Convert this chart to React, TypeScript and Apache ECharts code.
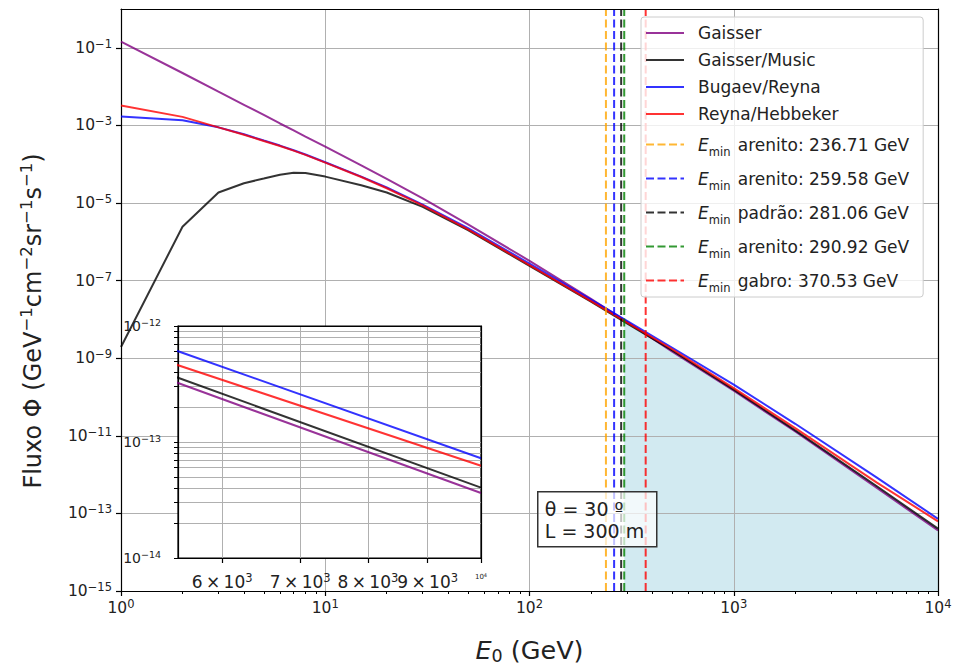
import React, { useEffect, useRef } from "react";
import * as echarts from "echarts";

// ---------- data ----------
const energies = [1, 2, 3, 4, 5, 6, 7, 8, 10, 15, 20, 30, 50, 100, 200, 300, 500, 1000, 2000, 5000, 10000];
const gaisser = [1.45e-1, 2.24e-2, 7.4e-3, 3.4e-3, 1.86e-3, 1.12e-3, 7.41e-4, 5.13e-4, 2.82e-4, 9.33e-5, 4.17e-5, 1.32e-5, 2.82e-6, 3.24e-7, 3.39e-8, 8.71e-9, 1.48e-9, 1.45e-10, 1.29e-11, 4.57e-13, 3.63e-14];
const gaisserMusic = [1.95e-9, 2.45e-6, 1.86e-5, 3.24e-5, 4.27e-5, 5.37e-5, 6.03e-5, 5.95e-5, 4.79e-5, 2.88e-5, 1.86e-5, 7.94e-6, 2.0e-6, 2.40e-7, 2.88e-8, 7.94e-9, 1.58e-9, 1.55e-10, 1.38e-11, 5.07e-13, 4.04e-14];
const bugaevReyna = [1.70e-3, 1.35e-3, 8.91e-4, 5.89e-4, 4.07e-4, 3.02e-4, 2.29e-4, 1.78e-4, 1.12e-4, 4.79e-5, 2.51e-5, 9.12e-6, 2.24e-6, 2.75e-7, 3.24e-8, 9.12e-9, 1.86e-9, 2.09e-10, 2.04e-11, 8.51e-13, 7.24e-14];
const reynaHebbeker = [3.24e-3, 1.66e-3, 8.91e-4, 5.75e-4, 3.98e-4, 2.95e-4, 2.24e-4, 1.74e-4, 1.10e-4, 4.68e-5, 2.40e-5, 8.71e-6, 2.09e-6, 2.51e-7, 2.95e-8, 8.32e-9, 1.70e-9, 1.70e-10, 1.58e-11, 6.31e-13, 6.25e-14];
const modelNames = ["Gaisser", "Gaisser/Music", "Bugaev/Reyna", "Reyna/Hebbeker"];

const eminRocks = ["arenito", "arenito", "padrão", "arenito", "gabro"];
const eminValues = [236.71, 259.58, 281.06, 290.92, 370.53];

const fillStartIndex = 3; // shaded region starts at the 4th E_min line
const fillStartFlux = 8.8e-9; // flux read at that energy

// tick values
const xMajorExps = [0, 1, 2, 3, 4];
const yMajorExps = [-15, -13, -11, -9, -7, -5, -3, -1];
const minorMultipliers = [2, 3, 4, 5, 6, 7, 8, 9];
const insetXMin = 5500;
const insetXTicks = [6000, 7000, 8000, 9000, 10000];
const insetYExps = [-14, -13, -12];

// ---------- styles ----------
const modelColors = ["rgba(128,0,128,0.8)", "rgba(0,0,0,0.8)", "rgba(0,0,255,0.8)", "rgba(255,0,0,0.8)"];
const eminColors = ["rgba(255,165,0,0.8)", "rgba(0,0,255,0.8)", "rgba(0,0,0,0.8)", "rgba(0,128,0,0.8)", "rgba(255,0,0,0.8)"];
const FF = '"DejaVu Sans", sans-serif';
const TXT = "#222";
const GRID = "#b0b0b0";
const MINUS = "\u2212";

const rs = (size: number, lh: number, extra: any = {}) => ({ fontFamily: FF, fontSize: size, lineHeight: lh, color: TXT, ...extra });
const expStr = (e: number) => (e < 0 ? MINUS + -e : String(e));
const pow10 = (v: number) => `{b|10}{s|${expStr(Math.round(v))}}`;

const lg = Math.log10;

function buildOption() {
  const modelSets = [gaisser, gaisserMusic, bugaevReyna, reynaHebbeker];
  const modelData = modelSets.map((arr) => energies.map((e, i) => [lg(e), lg(arr[i])]));
  const eminNames = eminRocks.map((r, i) => `E_min ${r}: ${eminValues[i].toFixed(2)} GeV`);

  const fillData = [[lg(eminValues[fillStartIndex]), lg(fillStartFlux)]].concat(
    energies.map((e, i) => [lg(e), lg(gaisserMusic[i])]).filter((p, i) => energies[i] > eminValues[fillStartIndex])
  );

  const minorX: number[] = [];
  for (let n = 0; n < 4; n++) minorMultipliers.forEach((k) => minorX.push(lg(k * Math.pow(10, n))));
  const insetXPos = insetXTicks.map((t) => lg(t));
  const insetYPos: number[] = [];
  [-14, -13].forEach((n) => [1, ...minorMultipliers].forEach((k) => insetYPos.push(n + lg(k))));
  insetYPos.push(-12);

  const axLine = { show: true, onZero: false, lineStyle: { color: "#000", width: 1.2 } };
  const lineOnly = (extra: any) => ({
    type: "value",
    axisLine: axLine,
    axisTick: { show: false },
    axisLabel: { show: false },
    splitLine: { show: false },
    ...extra,
  });
  const mainRich = { b: rs(15.5, 20), s: rs(11.5, 12, { verticalAlign: "top" }) };

  const series: any[] = [];
  series.push({
    type: "line",
    name: "fill",
    xAxisIndex: 0,
    yAxisIndex: 0,
    data: fillData,
    symbol: "none",
    lineStyle: { width: 0, opacity: 0 },
    areaStyle: { color: "rgba(173,216,230,0.55)", origin: "start", opacity: 1 },
    z: 0,
    silent: true,
  });
  modelNames.forEach((name, i) =>
    series.push({
      type: "line",
      name,
      xAxisIndex: 0,
      yAxisIndex: 0,
      data: modelData[i],
      symbol: "none",
      lineStyle: { color: modelColors[i], width: 2 },
      itemStyle: { color: modelColors[i] },
      z: 2,
      silent: true,
    })
  );
  eminNames.forEach((name, i) => {
    const x = lg(eminValues[i]);
    series.push({
      type: "line",
      name,
      xAxisIndex: 0,
      yAxisIndex: 0,
      data: [[x, -15], [x, 0]],
      symbol: "none",
      lineStyle: { color: eminColors[i], width: 2, type: [8, 3.5] },
      itemStyle: { color: eminColors[i] },
      z: 3,
      silent: true,
    });
  });
  modelNames.forEach((name, i) =>
    series.push({
      type: "line",
      name,
      xAxisIndex: 3,
      yAxisIndex: 2,
      data: modelData[i],
      symbol: "none",
      lineStyle: { color: modelColors[i], width: 2 },
      itemStyle: { color: modelColors[i] },
      z: 5,
      silent: true,
      clip: true,
    })
  );

  return {
    animation: false,
    backgroundColor: "#fff",
    grid: [
      { left: 121, top: 9, width: 817, height: 584.5, show: false },
      { left: 178, top: 326, width: 303, height: 232, show: true, backgroundColor: "#fff", borderColor: "#000", borderWidth: 1.2, z: 3 },
    ],
    xAxis: [
      {
        type: "value",
        gridIndex: 0,
        position: "bottom",
        min: 0,
        max: 4,
        interval: 1,
        z: 1,
        axisLine: axLine,
        axisTick: { show: true, length: 5, lineStyle: { color: "#000", width: 1.2 } },
        axisLabel: { margin: 7, formatter: (v: number) => pow10(v), rich: mainRich },
        splitLine: { show: true, lineStyle: { color: GRID, width: 1 } },
        name: "{i|E}{u|0}{b| (GeV)}",
        nameLocation: "middle",
        nameGap: 44,
        nameTextStyle: {
          rich: {
            i: rs(25.5, 30, { fontStyle: "italic" }),
            u: rs(17.5, 20, { verticalAlign: "bottom" }),
            b: rs(25.5, 30),
          },
        },
      },
      {
        type: "value",
        gridIndex: 0,
        position: "bottom",
        min: 0,
        max: 4,
        z: 1,
        axisLine: { show: false, onZero: false },
        axisTick: { show: true, length: 3, customValues: minorX, lineStyle: { color: "#000", width: 1 } },
        axisLabel: { show: false },
        splitLine: { show: false },
      },
      lineOnly({ gridIndex: 0, position: "top", min: 0, max: 4, z: 6 }),
      {
        type: "value",
        gridIndex: 1,
        position: "bottom",
        min: lg(insetXMin),
        max: 4,
        z: 4,
        axisLine: axLine,
        axisTick: { show: true, length: 5, customValues: insetXPos, lineStyle: { color: "#000", width: 1.2 } },
        axisLabel: {
          margin: 14,
          customValues: insetXPos,
          formatter: (v: number) => {
            const t = insetXTicks.find((q) => Math.abs(lg(q) - v) < 1e-6) ?? Math.round(Math.pow(10, v));
            if (t >= 10000) return `{t|10}{ts|${lg(t)}}`;
            return `{b|${t / 1000}\u2009×\u200910}{s|3}`;
          },
          rich: {
            b: rs(17, 20),
            s: rs(11.5, 12, { verticalAlign: "top" }),
            t: rs(7, 10),
            ts: rs(5, 6, { verticalAlign: "top" }),
          },
        },
        splitLine: { show: true, customValues: insetXPos, lineStyle: { color: GRID, width: 1 } },
      },
      lineOnly({ gridIndex: 1, position: "top", min: lg(insetXMin), max: 4, z: 6 }),
    ],
    yAxis: [
      {
        type: "value",
        gridIndex: 0,
        position: "left",
        min: -15,
        max: 0,
        z: 1,
        axisLine: axLine,
        axisTick: { show: true, length: 5, customValues: yMajorExps, lineStyle: { color: "#000", width: 1.2 } },
        axisLabel: { margin: 9, customValues: yMajorExps, formatter: (v: number) => pow10(v), rich: mainRich },
        splitLine: { show: true, customValues: yMajorExps, lineStyle: { color: GRID, width: 1 } },
        name: `{b|Fluxo Φ (GeV}{s|${MINUS}1}{b|cm}{s|${MINUS}2}{b|sr}{s|${MINUS}1}{b|s}{s|${MINUS}1}{b|)}`,
        nameLocation: "middle",
        nameRotate: 90,
        nameGap: 73,
        nameTextStyle: { padding: [0, 42, 0, 0], rich: { b: rs(24, 30), s: rs(16.5, 17, { verticalAlign: "top" }) } },
      },
      lineOnly({ gridIndex: 0, position: "right", min: -15, max: 0, z: 6 }),
      {
        type: "value",
        gridIndex: 1,
        position: "left",
        min: -14,
        max: -12,
        z: 4,
        axisLine: axLine,
        axisTick: { show: true, length: 4, customValues: insetYPos, lineStyle: { color: "#000", width: 1 } },
        axisLabel: {
          margin: 17,
          customValues: insetYExps,
          formatter: (v: number) => pow10(v),
          rich: { b: rs(14, 18), s: rs(9.5, 10, { verticalAlign: "top" }) },
        },
        splitLine: { show: true, customValues: insetYPos, lineStyle: { color: GRID, width: 1 } },
      },
      lineOnly({ gridIndex: 1, position: "right", min: -14, max: -12, z: 6 }),
    ],
    legend: {
      data: [...modelNames, ...eminNames],
      orient: "vertical",
      left: 641,
      top: 17,
      padding: [6, 14, 3, 4],
      itemGap: 7,
      itemWidth: 38,
      itemHeight: 20,
      selectedMode: false,
      itemStyle: { opacity: 0 },
      backgroundColor: "rgba(255,255,255,0.8)",
      borderColor: "#cccccc",
      borderWidth: 1,
      borderRadius: 3,
      formatter: (name: string) =>
        name.startsWith("E_min") ? `{e|E}{m|min}{t|${name.slice(5)}}` : `{p|${name}}`,
      textStyle: {
        fontFamily: FF,
        fontSize: 17,
        color: TXT,
        padding: [0, 0, 0, 9],
        rich: {
          p: rs(17, 20, { height: 20 }),
          e: rs(17, 27, { fontStyle: "italic", height: 27 }),
          m: rs(11.5, 16, { verticalAlign: "bottom" }),
          t: rs(17, 27, { height: 27, padding: [0, 0, 0, 2] }),
        },
      },
    },
    graphic: [
      {
        type: "group",
        left: 537,
        top: 491,
        z: 10,
        children: [
          {
            type: "rect",
            z: 10,
            shape: { x: 0, y: 0, width: 119, height: 55 },
            style: { fill: "rgba(255,255,255,0.7)", stroke: "#333", lineWidth: 1.5 },
          },
          {
            type: "text",
            z: 11,
            x: 7,
            y: 6,
            style: { text: "θ = 30 º\nL = 300 m", font: `19px ${FF}`, fill: TXT, lineHeight: 22 },
          },
        ],
      },
    ],
    series,
  };
}

export default function App() {
  const ref = useRef<HTMLDivElement>(null);
  useEffect(() => {
    if (!ref.current) return;
    const chart = echarts.init(ref.current, undefined, { renderer: "svg" });
    chart.setOption(buildOption() as any);
    return () => chart.dispose();
  }, []);
  return (
    <div
      ref={ref}
      style={{ position: "absolute", left: 0, top: 0, width: 955, height: 670, background: "#fff" }}
    />
  );
}
